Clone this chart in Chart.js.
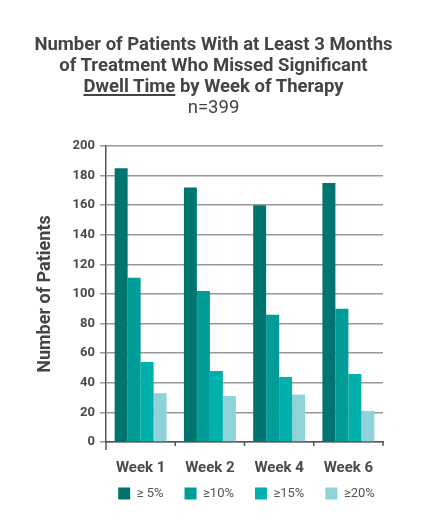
<!DOCTYPE html>
<html>
<head>
<meta charset="utf-8">
<script src="https://cdn.jsdelivr.net/npm/chart.js@4/dist/chart.umd.min.js"></script>
<style>
  html, body { margin: 0; padding: 0; background: #fff; }
  #wrap { position: relative; width: 427px; height: 530px; }
  #title { position: absolute; left: 0; top: 34px; width: 427px; text-align: center;
    font-family: Roboto, "Liberation Sans", sans-serif; font-size: 18.5px; line-height: 21px;
    color: #444; font-weight: bold; }
  #title u { text-decoration-thickness: 1.5px; text-underline-offset: 2px; }
  #title .n { font-weight: normal; }
  canvas { position: absolute; left: 0; top: 0; }
</style>
</head>
<body>
<div id="wrap">
  <canvas id="c" width="427" height="530"></canvas>
  <div id="title">Number of Patients With at Least 3 Months<br>of Treatment Who Missed Significant<br><u>Dwell Time</u> by Week of Therapy<br><span class="n">n=399</span></div>
</div>
<script>
const categories = ['Week 1', 'Week 2', 'Week 4', 'Week 6'];
const seriesLabels = ['\u2265 5%', '\u226510%', '\u226515%', '\u226520%'];
const s5 = [185, 172, 160, 175];
const s10 = [111, 102, 86, 90];
const s15 = [54, 48, 44, 46];
const s20 = [33, 31, 32, 21];
const yMin = 0, yMax = 200, yStep = 20;
const colors = ['#00746f', '#009c98', '#00b1ab', '#8ed3da'];

const seriesValues = [s5, s10, s15, s20];
const font = 'Roboto, "Liberation Sans", sans-serif';
const legendPad = 21;

// centre legend under the plot area; short boundary tick marks below the x axis
const xTickMarks = {
  id: 'xTickMarks',
  afterLayout(chart) {
    const lg = chart.legend;
    if (lg) {
      const target = (chart.chartArea.left + chart.chartArea.right) / 2 + 2;
      const dx = target - (lg.left + lg.right) / 2;
      lg.left += dx;
      lg.right += dx;
      const dy = (494 - legendPad - 7) - lg.top;
      lg.top += dy;
      lg.bottom += dy;
    }
  },
  afterDraw(chart) {
    const xs = chart.scales.x;
    const ctx = chart.ctx;
    const n = xs.ticks.length;
    const y0 = chart.chartArea.bottom;
    ctx.save();
    ctx.strokeStyle = '#555';
    ctx.lineWidth = 1.5;
    for (let i = 0; i <= n; i++) {
      let px, len;
      if (i === 0) { px = xs.left; len = 8; }
      else if (i === n) { px = xs.right; len = 4; }
      else { px = (xs.getPixelForTick(i - 1) + xs.getPixelForTick(i)) / 2; len = 4; }
      ctx.beginPath();
      ctx.moveTo(px, y0);
      ctx.lineTo(px, y0 + len);
      ctx.stroke();
    }
    ctx.restore();
  }
};

new Chart(document.getElementById('c'), {
  type: 'bar',
  data: {
    labels: categories,
    datasets: seriesValues.map((vals, i) => ({
      label: seriesLabels[i],
      data: vals,
      backgroundColor: colors[i],
      borderWidth: 0,
      barPercentage: 1.0,
      categoryPercentage: 0.75
    }))
  },
  plugins: [xTickMarks],
  options: {
    responsive: false,
    animation: false,
    layout: { padding: { top: 146, right: 44, left: 0, bottom: 8 } },
    plugins: {
      title: { display: false },
      tooltip: { enabled: false },
      legend: {
        position: 'bottom',
        align: 'center',
        labels: {
          boxWidth: 12, boxHeight: 12, padding: legendPad,
          color: '#555',
          font: { family: font, size: 13 }
        }
      }
    },
    scales: {
      x: {
        grid: { display: false },
        border: { display: true, color: '#555', width: 1.5 },
        ticks: { color: '#4a4a4a', font: { family: font, size: 15, weight: 'bold' }, padding: 9 },
        afterFit: (s) => { s.height = 36; }
      },
      y: {
        min: yMin, max: yMax,
        ticks: { stepSize: yStep, color: '#4a4a4a', font: { family: font, size: 13, weight: 'bold' }, padding: 5 },
        grid: { color: '#999', lineWidth: 1.5, tickLength: 6 },
        border: { display: true, color: '#555', width: 1.5 },
        title: { display: true, text: 'Number of Patients', color: '#444', font: { family: font, size: 18, weight: 'bold' }, padding: { top: 35, bottom: 0 } },
        afterFit: (s) => { s.width = 106; }
      }
    }
  }
});
</script>
</body>
</html>
